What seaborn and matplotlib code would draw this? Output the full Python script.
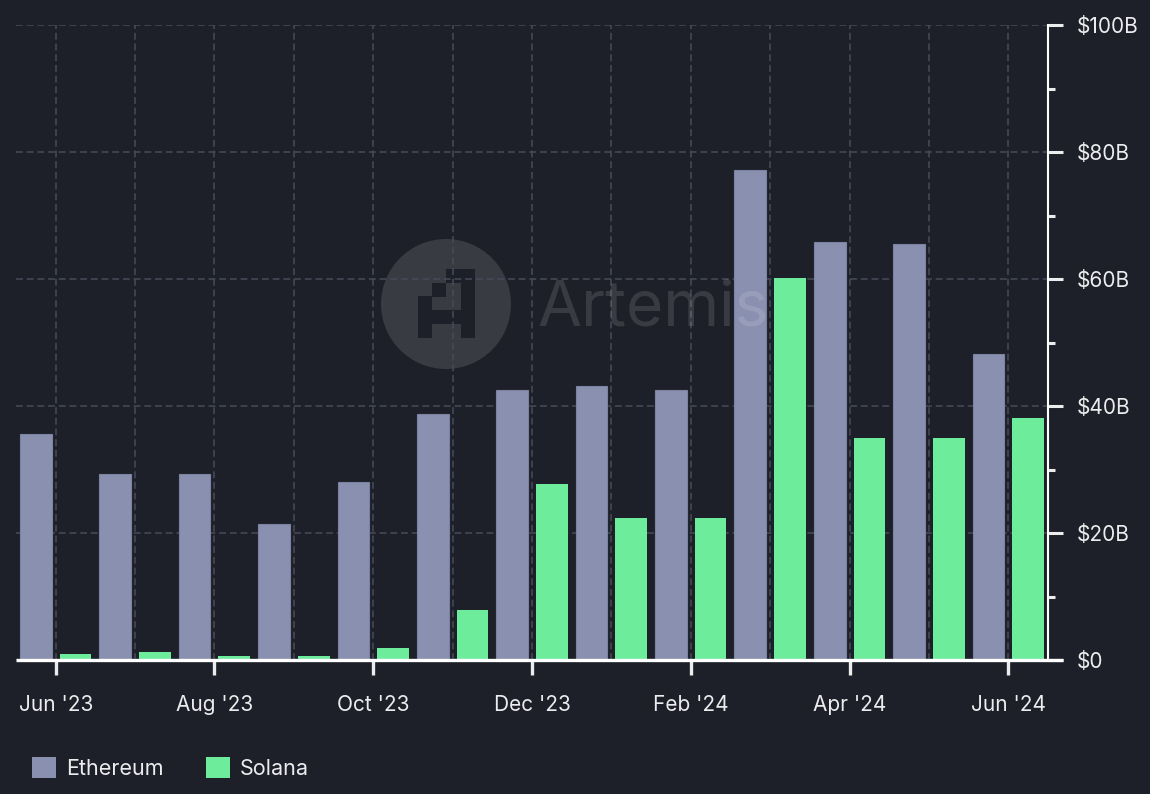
#!/usr/bin/env python3
# Monthly DEX volume: Ethereum vs Solana (Artemis style, dark theme)

import pandas as pd
import matplotlib.pyplot as plt
import matplotlib.ticker as mtick
from matplotlib.patches import Patch, Circle, Rectangle
import seaborn as sns

# Data ($B)
months = ["Jun '23", "Jul '23", "Aug '23", "Sep '23", "Oct '23", "Nov '23", "Dec '23",
          "Jan '24", "Feb '24", "Mar '24", "Apr '24", "May '24", "Jun '24"]
ethereum = [35.6, 29.3, 29.3, 21.4, 28.0, 38.7, 42.5, 43.1, 42.5, 77.2, 65.8, 65.5, 48.2]
solana = [0.9, 1.3, 0.6, 0.6, 1.9, 7.9, 27.7, 22.4, 22.4, 60.2, 35.0, 35.0, 38.1]
series = ["Ethereum", "Solana"]
colors = {"Ethereum": "#8a90b0", "Solana": "#6ded9b"}

df = pd.DataFrame({
    'month': months * 2,
    'chain': ["Ethereum"] * len(months) + ["Solana"] * len(months),
    'volume': ethereum + solana,
})

BG = '#1e2029'
GRID = '#474a58'
FG = '#ececee'

sns.set_style('dark')
plt.rcParams['font.family'] = ['Inter', 'DejaVu Sans']

fig = plt.figure(figsize=(11.5, 7.94), dpi=100, facecolor=BG)
ax = fig.add_axes([16 / 1150, 1 - 660 / 794, (1048 - 16) / 1150, (660 - 25) / 794])
ax.set_facecolor(BG)

sns.barplot(data=df, x='month', y='volume', hue='chain', hue_order=series,
            palette=colors, width=1.0, gap=0.2, saturation=1, linewidth=0,
            legend=False, ax=ax)

# thin darker outline on the ethereum bars
for bar in ax.containers[0]:
    bar.set_edgecolor('#7c82a2')
    bar.set_linewidth(0.8)

ax.set_xlim(-0.5, len(months) - 0.5)
ax.set_ylim(0, 100)
ax.set_xlabel('')
ax.set_ylabel('')

# x axis: labels every 2 months, grid every month
ax.set_xticks(range(0, len(months), 2))
ax.set_xticklabels(months[::2])
ax.set_xticks(range(1, len(months), 2), minor=True)
ax.tick_params(axis='x', which='major', colors=FG, labelcolor=FG, labelsize=15,
               length=11, width=2.4, direction='out', pad=14, bottom=True)
ax.tick_params(axis='x', which='minor', length=0)

# y axis on the right
ax.yaxis.tick_right()
ax.yaxis.set_major_locator(mtick.MultipleLocator(20))
ax.yaxis.set_minor_locator(mtick.MultipleLocator(10))
ax.yaxis.set_major_formatter(mtick.FuncFormatter(lambda v, p: '$0' if v == 0 else f'${v:.0f}B'))
ax.tick_params(axis='y', which='major', colors=FG, labelcolor=FG, labelsize=15,
               length=11, width=2.2, direction='out', pad=10, right=True, left=False)
ax.tick_params(axis='y', which='minor', colors=FG, length=5, width=2.2,
               direction='out', right=True, left=False)

for side in ['top', 'left', 'bottom']:
    ax.spines[side].set_visible(False)
ax.spines['right'].set_visible(True)
ax.spines['right'].set_color('white')
ax.spines['right'].set_linewidth(1.5)

# baseline runs a little past the y axis
ax.plot([0, 1.0145], [0, 0], transform=ax.transAxes, color='white', lw=2.4,
        solid_capstyle='butt', clip_on=False, zorder=6)

ax.grid(False)
ax.set_axisbelow(True)
ax.xaxis.grid(True, which='both', color=GRID, linestyle=(0, (4.5, 2.5)), linewidth=1.1)
ax.yaxis.grid(True, which='major', color=GRID, linestyle=(0, (4.5, 2.5)), linewidth=1.1)

# Artemis watermark
inch = fig.dpi_scale_trans
circ = Circle((446 / 100, (794 - 304) / 100), 0.65, transform=inch,
              facecolor='white', alpha=0.12, edgecolor='none', zorder=0.2)
ax.add_patch(circ)
cells = [(2, 0), (3, 0), (1, 1), (3, 1), (0, 2), (3, 2),
         (0, 3), (1, 3), (2, 3), (3, 3), (0, 4), (3, 4)]
for c, r in cells:
    ax.add_patch(Rectangle(((417.5 + c * 14.4) / 100, (794 - 269 - (r + 1) * 13.8) / 100),
                           0.146, 0.14, transform=inch, facecolor=BG,
                           edgecolor='none', zorder=0.3))
fig.text(537 / 1150, 1 - 325 / 794, 'Artemis', fontsize=46, fontweight='normal',
         color='white', alpha=0.12, ha='left', va='baseline', zorder=10)

# legend at the bottom
handles = [Patch(facecolor=colors[s], edgecolor='none', label=s) for s in series]
fig.legend(handles=handles, loc='center left', bbox_to_anchor=(32 / 1150, 1 - 768 / 794),
           ncol=2, frameon=False, fontsize=15.5, labelcolor=FG, handlelength=1.12,
           handleheight=1.12, handletextpad=0.47, columnspacing=1.95,
           borderpad=0, borderaxespad=0)

fig.savefig('out.png', dpi=100, facecolor=BG)
